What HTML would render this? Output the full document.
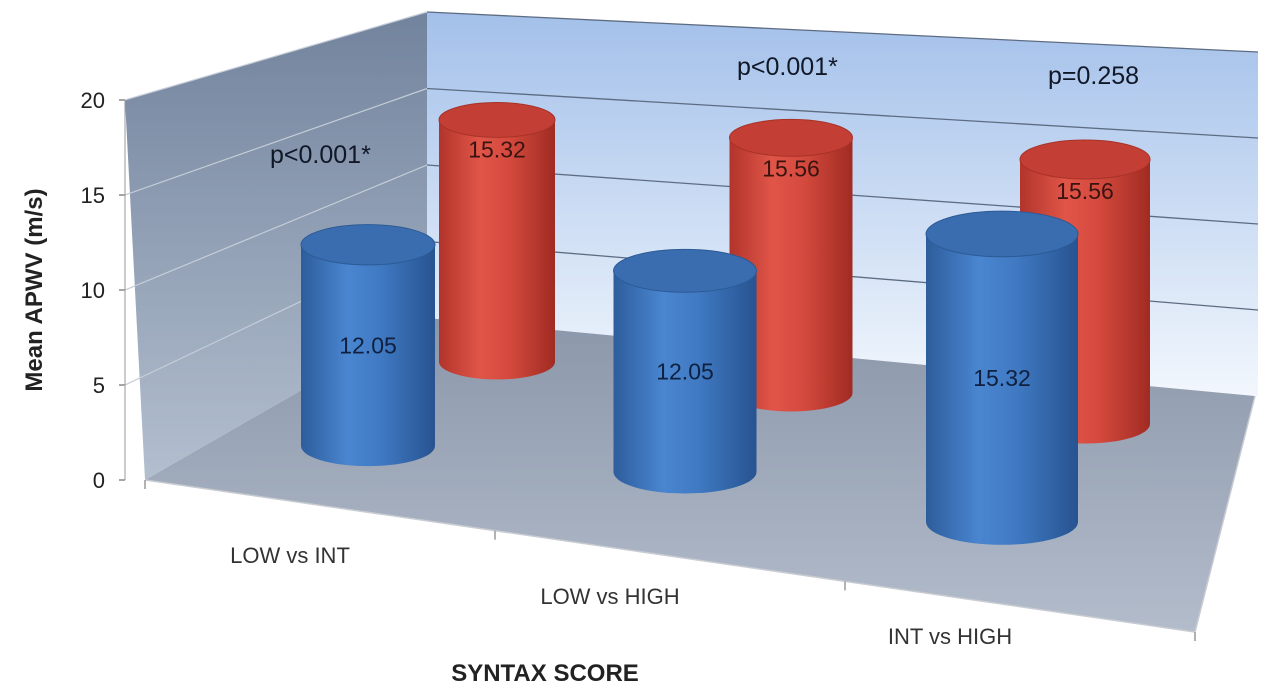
<!DOCTYPE html>
<html><head><meta charset="utf-8"><style>
body{margin:0;background:#fff}
svg{display:block;font-family:"Liberation Sans",sans-serif}
</style></head><body>
<svg id="c" width="1280" height="694" viewBox="0 0 1280 694" xmlns="http://www.w3.org/2000/svg">
<defs>
<linearGradient id="bw" x1="0" y1="0" x2="0" y2="1"><stop offset="0" stop-color="#a3c0ea"/><stop offset="1" stop-color="#f2f7fd"/></linearGradient>
<linearGradient id="lw" x1="0" y1="0" x2="0" y2="1"><stop offset="0" stop-color="#72839d"/><stop offset="1" stop-color="#b3bfcf"/></linearGradient>
<linearGradient id="fl" x1="0" y1="0" x2="0" y2="1"><stop offset="0" stop-color="#8b97aa"/><stop offset="1" stop-color="#b3bccb"/></linearGradient>
<linearGradient id="gb" x1="0" y1="0" x2="1" y2="0"><stop offset="0" stop-color="#2d5d9c"/><stop offset="0.35" stop-color="#4a86d0"/><stop offset="0.6" stop-color="#3f79c2"/><stop offset="1" stop-color="#275390"/></linearGradient>
<linearGradient id="gr" x1="0" y1="0" x2="1" y2="0"><stop offset="0" stop-color="#b2342b"/><stop offset="0.35" stop-color="#e05548"/><stop offset="0.6" stop-color="#d54a3e"/><stop offset="1" stop-color="#a02b22"/></linearGradient>
</defs>
<g id="walls"></g><g id="marks"></g><g id="labels"></g>
</svg>
<script>
const categories = ["LOW vs INT", "LOW vs HIGH", "INT vs HIGH"];
const lowerGroup = [12.05, 12.05, 15.32];
const higherGroup = [15.32, 15.56, 15.56];
const pValues = ["p<0.001*", "p<0.001*", "p=0.258"];
const yTicks = [0, 5, 10, 15, 20];

const NS = "http://www.w3.org/2000/svg";
function mk(parent, tag, attrs, text){const e=document.createElementNS(NS,tag);for(const k in attrs)e.setAttribute(k,attrs[k]);if(text!==undefined)e.textContent=text;parent.appendChild(e);return e;}
const walls=document.getElementById('walls'), marks=document.getElementById('marks'), labels=document.getElementById('labels');
const yFront=v=>480-v*19, yBackL=v=>318-v*15.3, yBackR=v=>396-v*17.2;
const XL=125, XB=427, XR=1258;

let e;
e=mk(walls,'polygon',{points:`${XB},${yBackL(20)} ${XR},${yBackR(20)} ${XR},${yBackR(0)} ${XB},${yBackL(0)}`,fill:'url(#bw)'});

e=mk(walls,'polygon',{points:`${XL},${yFront(20)} ${XB},${yBackL(20)} ${XB},${yBackL(0)} 145,480`,fill:'url(#lw)'});

e=mk(walls,'polygon',{points:`145,480 ${XB},318 1255,396 1195,632`,fill:'url(#fl)'});

yTicks.forEach(t=>{
  if(t>0){
  e=mk(walls,'line',{x1:XB,y1:yBackL(t),x2:XR,y2:yBackR(t),stroke:'#5d6c82','stroke-width':1.3});
  
  e=mk(walls,'line',{x1:XL,y1:yFront(t),x2:XB,y2:yBackL(t),stroke:'#c5cdd8','stroke-width':1.2});
  
  }
  e=mk(walls,'line',{x1:XL-6,y1:yFront(t),x2:XL,y2:yFront(t),stroke:'#888','stroke-width':1.5});
  
  e=mk(labels,'text',{x:XL-20,y:yFront(t)+8,'text-anchor':'end','font-size':22,fill:'#222'},String(t));
  
});
e=mk(walls,'line',{x1:XL,y1:yFront(20),x2:XL,y2:yFront(0),stroke:'#999','stroke-width':1});

e=mk(walls,'polyline',{points:'145,480 1195,632 1255,396',fill:'none',stroke:'#c8ccd2','stroke-width':1.5});

[0,1,2,3].forEach(i=>{const x=145+i*(1050/3);const y=480+(x-145)*0.1448;
  e=mk(walls,'line',{x1:x,y1:y,x2:x,y2:y+9,stroke:'#999','stroke-width':1.5});
  });

function cyl(cx,by,w,h,fill,top,dark,name){
  const g=mk(marks,'g',{});
  
  const rx=w/2, ry=w*0.15, ty=by-h;
  mk(g,'path',{d:`M${cx-rx},${ty} L${cx-rx},${by} A${rx},${ry} 0 0 0 ${cx+rx},${by} L${cx+rx},${ty} Z`,fill:fill});
  mk(g,'ellipse',{cx:cx,cy:ty,rx:rx,ry:ry,fill:top,stroke:dark,'stroke-width':1});
  return ty;
}
higherGroup.forEach((v,i)=>{
  const cx=497+i*294, by=362+i*31, s=15.8+0.6*i, w=116+7*i;
  const ty=cyl(cx,by,w,v*s,'url(#gr)','#c33f35','#a83228','bar-higher-'+i);
  e=mk(labels,'text',{x:cx,y:ty+w*0.15+20,'text-anchor':'middle','font-size':23,fill:'#3a1410'},v.toFixed(2));
  
});
lowerGroup.forEach((v,i)=>{
  const cx=368+i*317, by=446+i*14+i*i*12, s=16.7+1.05*i*(i-1), w=134+9*i;
  const ty=cyl(cx,by,w,v*s,'url(#gb)','#3a6db0','#2c5a95','bar-lower-'+i);
  e=mk(labels,'text',{x:cx,y:(ty+by)/2+8,'text-anchor':'middle','font-size':23,fill:'#0f2040'},v.toFixed(2));
  
});
const pPos=[[270,163],[737,75],[1048,84]];
pValues.forEach((p,i)=>{e=mk(labels,'text',{x:pPos[i][0],y:pPos[i][1],'font-size':25,fill:'#101828'},p);
  });
const cPos=[[290,563],[610,604],[950,644]];
categories.forEach((c,i)=>{e=mk(labels,'text',{x:cPos[i][0],y:cPos[i][1],'text-anchor':'middle','font-size':22,fill:'#333'},c);
  });
e=mk(labels,'text',{x:545,y:681,'text-anchor':'middle','font-size':24,'font-weight':'bold',fill:'#222'},'SYNTAX SCORE');

e=mk(labels,'text',{x:0,y:0,'text-anchor':'middle','font-size':24,'font-weight':'bold',fill:'#222',transform:'translate(42,290) rotate(-90)'},'Mean APWV (m/s)');

</script>
</body></html>
